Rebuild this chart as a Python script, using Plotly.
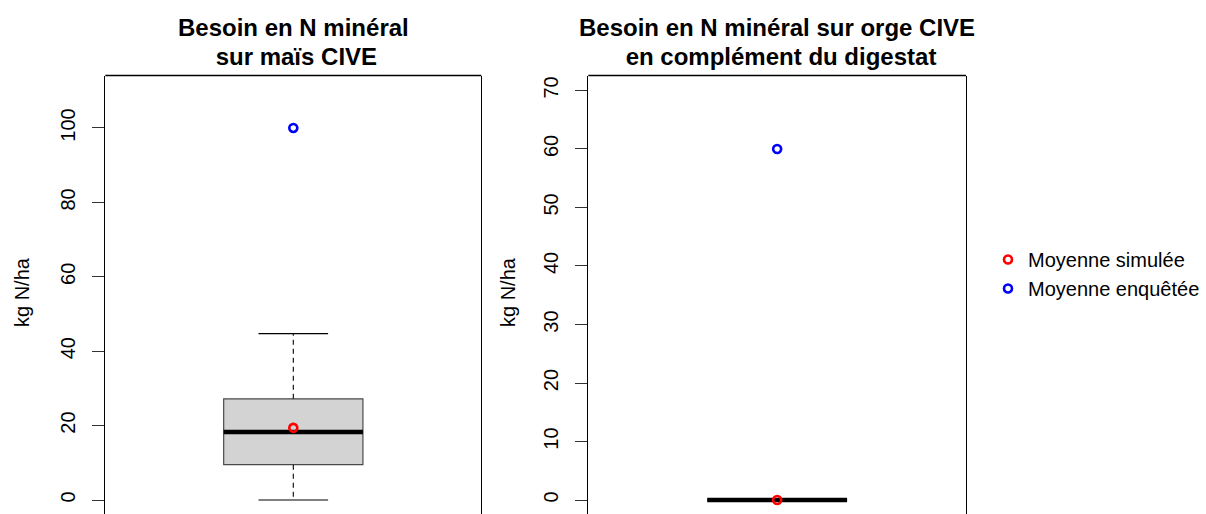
import plotly.graph_objects as go

# Box statistics (kg N/ha): lower whisker, Q1, median, Q3, upper whisker
panels = ["maïs", "orge"]
lower_whisker = [0.0, 0.0]
q1 = [9.5, 0.0]
median = [18.3, 0.0]
q3 = [27.2, 0.0]
upper_whisker = [44.7, 0.0]

# Means
mean_simulee = [19.4, 0.0]
mean_enquetee = [100.0, 60.0]

titles = [
    ["Besoin en N minéral", "\u00a0sur maïs CIVE"],
    ["Besoin en N minéral sur orge CIVE", "\u00a0en complément du digestat"],
]
y_ranges = [[-3.76, 114.1], [-2.39, 72.56]]
y_ticks = [[0, 20, 40, 60, 80, 100], [0, 10, 20, 30, 40, 50, 60, 70]]

W, H = 1206, 514
FONT = "Liberation Sans, Arial, sans-serif"
x_dom_px = [(105.3, 481.3), (588.3, 966.0)]
top_px = 75.5
box_x = 1.0
box_width = 0.4
staple_half = 0.1

fig = go.Figure()

for i in range(2):
    xa = "x" if i == 0 else "x2"
    ya = "y" if i == 0 else "y2"

    # box body
    fig.add_trace(go.Box(
        x=[box_x], q1=[q1[i]], median=[median[i]], q3=[q3[i]],
        lowerfence=[q1[i]], upperfence=[q3[i]],
        width=box_width, fillcolor="#D3D3D3",
        line=dict(color="#4a4a4a", width=1.2),
        whiskerwidth=0, boxpoints=False, hoverinfo="skip",
        showlegend=False, xaxis=xa, yaxis=ya,
    ))
    # dashed whiskers
    for a, b in ((q3[i], upper_whisker[i]), (q1[i], lower_whisker[i])):
        fig.add_trace(go.Scatter(
            x=[box_x, box_x], y=[a, b], mode="lines",
            line=dict(color="black", width=1.1, dash="5px,4px"),
            showlegend=False, hoverinfo="skip", xaxis=xa, yaxis=ya,
        ))
    # staples
    for v in (upper_whisker[i], lower_whisker[i]):
        fig.add_trace(go.Scatter(
            x=[box_x - staple_half, box_x + staple_half], y=[v, v],
            mode="lines", line=dict(color="black", width=1.2),
            showlegend=False, hoverinfo="skip", xaxis=xa, yaxis=ya,
        ))
    # median
    fig.add_trace(go.Scatter(
        x=[box_x - box_width / 2, box_x + box_width / 2],
        y=[median[i], median[i]], mode="lines",
        line=dict(color="black", width=4.5),
        showlegend=False, hoverinfo="skip", xaxis=xa, yaxis=ya,
    ))
    # means
    fig.add_trace(go.Scatter(
        x=[box_x], y=[mean_simulee[i]], mode="markers",
        marker=dict(symbol="circle-open", size=8, color="#FF0000",
                    line=dict(width=2.6, color="#FF0000")),
        name="Moyenne simulée", legendgroup="sim", showlegend=(i == 0),
        xaxis=xa, yaxis=ya,
    ))
    fig.add_trace(go.Scatter(
        x=[box_x], y=[mean_enquetee[i]], mode="markers",
        marker=dict(symbol="circle-open", size=8, color="#0000FF",
                    line=dict(width=2.6, color="#0000FF")),
        name="Moyenne enquêtée", legendgroup="enq", showlegend=(i == 0),
        xaxis=xa, yaxis=ya,
    ))

y_top = 1 - top_px / H
for i in range(2):
    sfx = "" if i == 0 else "2"
    x0, x1 = x_dom_px[i]
    fig.layout["xaxis" + sfx] = dict(
        domain=[x0 / W, x1 / W], range=[0.46, 1.54],
        showticklabels=False, ticks="", showline=False,
        showgrid=False, zeroline=False, anchor="y" + sfx,
    )
    fig.layout["yaxis" + sfx] = dict(
        domain=[0, y_top], range=y_ranges[i],
        tickmode="array", tickvals=y_ticks[i],
        ticks="outside", ticklen=12, tickwidth=1, tickcolor="#333",
        tickangle=-90, ticklabelstandoff=9,
        tickfont=dict(family=FONT, size=20, color="black"),
        showline=True, mirror=True, linecolor="black", linewidth=1.3,
        showgrid=False, zeroline=False, anchor="x" + sfx,
    )

shapes = []
annotations = []
title_y = [27, 56]
ylab_x = [22, 508]
for i in range(2):
    x0, x1 = x_dom_px[i]
    # top edge of the plot frame
    shapes.append(dict(type="line", xref="paper", yref="paper",
                       x0=x0 / W, x1=x1 / W, y0=y_top, y1=y_top,
                       line=dict(color="black", width=1.3)))
    for j, line in enumerate(titles[i]):
        annotations.append(dict(
            text="<b>" + line + "</b>", xref="paper", yref="paper",
            x=(x0 + x1) / 2 / W, y=1 - title_y[j] / H,
            xanchor="center", yanchor="middle", showarrow=False,
            font=dict(family=FONT, size=24, color="black"),
        ))
    annotations.append(dict(
        text="kg N/ha", xref="paper", yref="paper",
        x=ylab_x[i] / W, y=1 - 292 / H, textangle=-90,
        xanchor="center", yanchor="middle", showarrow=False,
        font=dict(family=FONT, size=20, color="black"),
    ))

fig.update_layout(
    width=W, height=H,
    margin=dict(l=0, r=0, t=0, b=0),
    paper_bgcolor="white", plot_bgcolor="white",
    shapes=shapes, annotations=annotations,
    showlegend=True,
    legend=dict(
        x=988 / W, y=1 - 240 / H, xanchor="left", yanchor="top",
        font=dict(family=FONT, size=20, color="black"),
        bgcolor="rgba(0,0,0,0)", tracegroupgap=0, itemwidth=30,
    ),
)

fig.write_html("out.html")
